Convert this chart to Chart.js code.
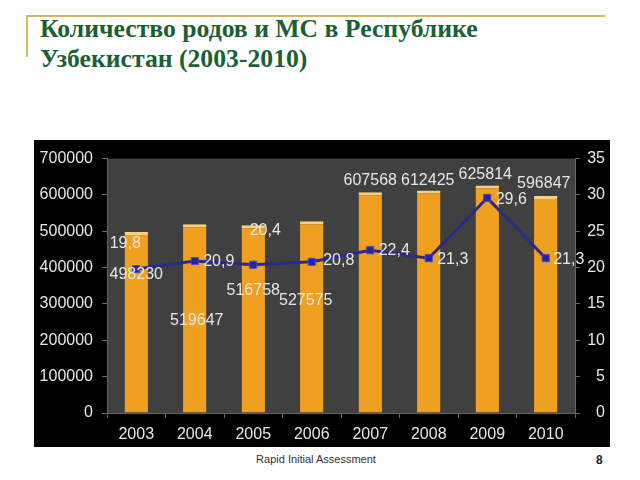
<!DOCTYPE html>
<html>
<head>
<meta charset="utf-8">
<script src="https://cdn.jsdelivr.net/npm/chart.js@4/dist/chart.umd.min.js"></script>
<style>
  body { margin: 0; width: 640px; height: 480px; background: #fff; position: relative; overflow: hidden; font-family: "Liberation Sans", Arial, sans-serif; }
  .hline { position: absolute; left: 27px; top: 15px; width: 578px; height: 2px; background: #d4b56a; }
  .vline { position: absolute; left: 26px; top: 15px; width: 2px; height: 42px; background: #d4b56a; }
  #title { position: absolute; left: 40px; top: 14px; margin: 0; font-family: "Liberation Serif", "Times New Roman", serif; font-weight: bold; font-size: 25.7px; line-height: 30px; color: #1a6034; }
  #box { position: absolute; left: 34px; top: 140px; width: 576px; height: 307px; background: #000; }
  #footer { position: absolute; top: 453px; left: 0; width: 632px; text-align: center; font-size: 11px; color: #333; }
  #page { position: absolute; top: 453px; left: 596px; font-size: 12px; font-weight: bold; color: #222; }
</style>
</head>
<body>
<div class="hline"></div>
<div class="vline"></div>
<h1 id="title">Количество родов и МС в Республике<br>Узбекистан (2003-2010)</h1>
<div id="box"><canvas id="chart" width="576" height="307"></canvas></div>
<div id="footer">Rapid Initial Assessment</div>
<div id="page">8</div>
<script>
    const years = ['2003', '2004', '2005', '2006', '2007', '2008', '2009', '2010'];
    const births = [498230, 519647, 516758, 527575, 607568, 612425, 625814, 596847];
    const msRate = [19.8, 20.9, 20.4, 20.8, 22.4, 21.3, 29.6, 21.3];
    const msLabels = ['19,8', '20,9', '20,4', '20,8', '22,4', '21,3', '29,6', '21,3'];

    // hand placed label offsets, like in the original slide
    const birthsOffsets = [[0, 43], [2, 96], [0, 65], [-6, 79], [0, -12], [-1, -10], [-2, -11], [-2, -12]];
    const msOffsets = [[-11, -25], [24, 1], [12, -34], [27, -1], [24, 0], [24, 1], [24, 2], [23, 1]];

    const fontFamily = '"Liberation Sans", Arial, sans-serif';

    const plotBg = {
      id: 'plotBg',
      beforeDraw(chart) {
        const { ctx, chartArea: a } = chart;
        ctx.save();
        ctx.fillStyle = '#404040';
        ctx.fillRect(a.left, a.top, a.right - a.left, a.bottom - a.top);
        ctx.restore();
      }
    };

    const valueLabels = {
      id: 'valueLabels',
      afterDatasetsDraw(chart) {
        const ctx = chart.ctx;
        ctx.save();
        ctx.font = '16px ' + fontFamily;
        ctx.fillStyle = '#e6e6e6';
        ctx.textAlign = 'center';
        ctx.textBaseline = 'middle';
        chart.getDatasetMeta(1).data.forEach((bar, i) => {
          ctx.fillText(String(births[i]), bar.x + birthsOffsets[i][0], bar.y + birthsOffsets[i][1]);
        });
        chart.getDatasetMeta(0).data.forEach((pt, i) => {
          ctx.fillText(msLabels[i], pt.x + msOffsets[i][0], pt.y + msOffsets[i][1]);
        });
        ctx.restore();
      }
    };

    const ctx = document.getElementById('chart').getContext('2d');

    new Chart(ctx, {
      data: {
        labels: years,
        datasets: [{
          type: 'line',
          label: 'МС',
          data: msRate,
          yAxisID: 'y2',
          borderColor: '#2a2a8c',
          borderWidth: 3,
          pointStyle: 'rect',
          pointRadius: 5,
          pointBackgroundColor: '#2222aa',
          pointBorderColor: '#4848c8',
          pointBorderWidth: 1,
          tension: 0
        }, {
          type: 'bar',
          label: 'Роды',
          data: births,
          yAxisID: 'y',
          backgroundColor: (c) => {
            const el = c.chart.getDatasetMeta(1).data[c.dataIndex];
            if (!el || !isFinite(el.x)) return '#f0a020';
            const w = el.width || 23;
            const g = c.chart.ctx.createLinearGradient(el.x - w / 2, 0, el.x + w / 2, 0);
            g.addColorStop(0, '#e08a10');
            g.addColorStop(0.5, '#f6a823');
            g.addColorStop(1, '#de8a12');
            return g;
          },
          borderColor: '#f8d080',
          borderWidth: { top: 3, left: 0, right: 0, bottom: 0 },
          borderSkipped: false,
          categoryPercentage: 0.8,
          barPercentage: 0.5
        }]
      },
      options: {
        responsive: false,
        animation: false,
        layout: { padding: { top: 15, right: 5, left: 0, bottom: 0 } },
        plugins: { legend: { display: false }, tooltip: { enabled: false } },
        scales: {
          x: {
            grid: { display: true, drawOnChartArea: false, offset: true, color: '#666', tickLength: 5 },
            border: { color: '#666' },
            ticks: { color: '#e6e6e6', font: { size: 16, family: fontFamily }, padding: 7 },
            afterFit(s) { s.height = 34; }
          },
          y: {
            position: 'left',
            min: 0, max: 700000,
            grid: { drawOnChartArea: false, color: '#666', tickLength: 5 },
            border: { color: '#666' },
            ticks: { stepSize: 100000, color: '#e6e6e6', font: { size: 16, family: fontFamily }, padding: 9,
              callback: (v) => String(v) },
            afterFit(s) { s.width = 73; }
          },
          y2: {
            position: 'right',
            min: 0, max: 35,
            grid: { drawOnChartArea: false, color: '#666', tickLength: 5 },
            border: { color: '#666' },
            ticks: { stepSize: 5, color: '#e6e6e6', font: { size: 16, family: fontFamily }, padding: 7, crossAlign: 'far' },
            afterFit(s) { s.width = 30; }
          }
        }
      },
      plugins: [plotBg, valueLabels]
    });
</script>
</body>
</html>
